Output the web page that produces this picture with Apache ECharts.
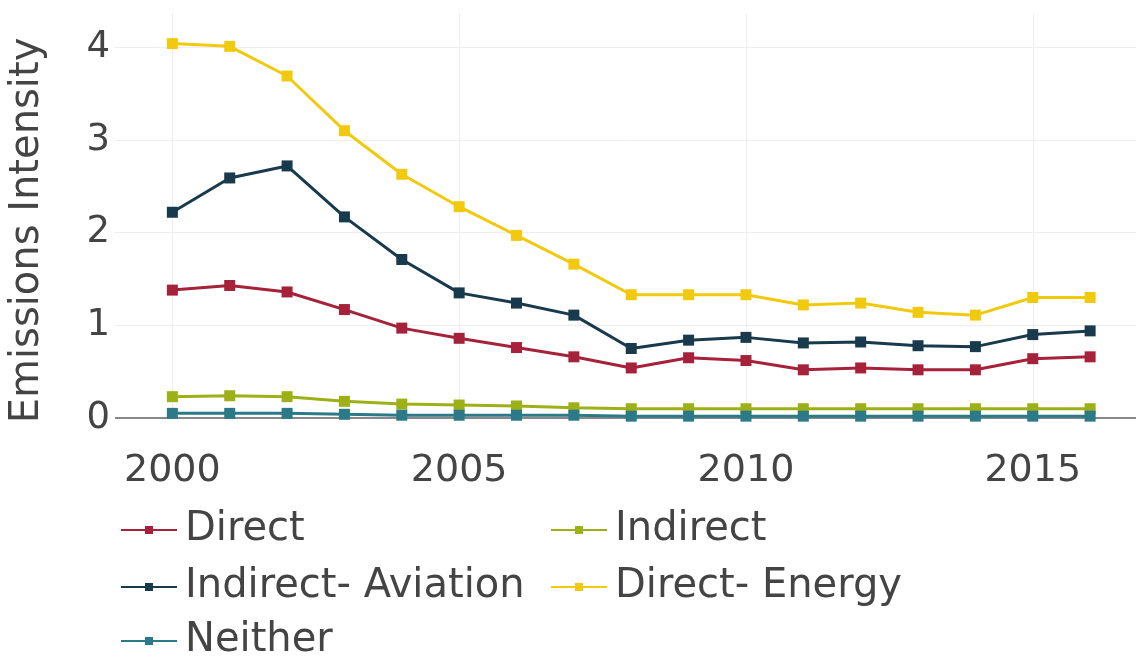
<!DOCTYPE html>
<html>
<head>
<meta charset="utf-8">
<script src="https://cdn.jsdelivr.net/npm/echarts@6/dist/echarts.min.js"></script>
<style>
html, body { margin: 0; padding: 0; background: #fff; }
#chart { width: 1136px; height: 657px; }
</style>
</head>
<body>
<div id="chart"></div>
<script>
// years on the x axis
const years = [2000, 2001, 2002, 2003, 2004, 2005, 2006, 2007, 2008, 2009, 2010, 2011, 2012, 2013, 2014, 2015, 2016];
const xTicks = [2000, 2005, 2010, 2015];
const yTicks = [0, 1, 2, 3, 4];

// emissions intensity per group
const direct = [1.38, 1.43, 1.36, 1.17, 0.97, 0.86, 0.76, 0.66, 0.54, 0.65, 0.62, 0.52, 0.54, 0.52, 0.52, 0.64, 0.66];
const indirect = [0.23, 0.24, 0.23, 0.18, 0.15, 0.14, 0.13, 0.11, 0.10, 0.10, 0.10, 0.10, 0.10, 0.10, 0.10, 0.10, 0.10];
const indirectAviation = [2.22, 2.59, 2.72, 2.17, 1.71, 1.35, 1.24, 1.11, 0.75, 0.84, 0.87, 0.81, 0.82, 0.78, 0.77, 0.90, 0.94];
const directEnergy = [4.04, 4.01, 3.69, 3.10, 2.63, 2.28, 1.97, 1.66, 1.33, 1.33, 1.33, 1.22, 1.24, 1.14, 1.11, 1.30, 1.30];
const neither = [0.05, 0.05, 0.05, 0.04, 0.03, 0.03, 0.03, 0.03, 0.02, 0.02, 0.02, 0.02, 0.02, 0.02, 0.02, 0.02, 0.02];

const names = ["Direct", "Indirect", "Indirect- Aviation", "Direct- Energy", "Neither"];
const colors = ["#a5223a", "#9eb017", "#183a4c", "#f1ca0f", "#2c7a87"];
const values = [direct, indirect, indirectAviation, directEnergy, neither];

const chart = echarts.init(document.getElementById("chart"));

const font = "'DejaVu Sans', Verdana, sans-serif";

// one legend per entry so the two columns line up like the original
const legendPos = [
  [120, 506], [550, 506],
  [120, 563], [550, 563],
  [120, 617]
];
const legends = names.map((n, i) => ({
  data: [n],
  left: legendPos[i][0],
  top: legendPos[i][1],
  itemWidth: 56,
  itemHeight: 10,
  padding: 0,
  textStyle: { fontSize: 40, color: "#444", fontFamily: font, lineHeight: 48, padding: [0, 0, 0, 3] }
}));

chart.setOption({
  animation: false,
  color: colors,
  grid: { left: 112, right: 0, top: 13, bottom: 239, containLabel: false },
  legend: legends,
  xAxis: {
    type: "value",
    min: 1999,
    max: 2016.8,
    axisLine: { show: false },
    axisTick: { show: false, customValues: xTicks },
    axisLabel: { customValues: xTicks, fontSize: 38, color: "#444", fontFamily: font, margin: 34, formatter: v => String(v) },
    splitLine: { show: true, lineStyle: { color: "#eeeeee", width: 1 } }
  },
  yAxis: {
    type: "value",
    min: 0,
    max: 4.37,
    name: "Emissions Intensity",
    nameLocation: "middle",
    nameGap: 67,
    nameTextStyle: { fontSize: 40, color: "#444", fontFamily: font, padding: [0, 30, 0, 0] },
    axisLine: { show: false },
    axisTick: { show: false, customValues: yTicks },
    axisLabel: { customValues: yTicks, fontSize: 37, color: "#444", fontFamily: font, margin: 5 },
    splitLine: { lineStyle: { color: "#eeeeee", width: 1 } }
  },
  series: names.map((n, i) => ({
    name: n,
    type: "line",
    data: years.map((y, j) => [y, values[i][j]]),
    symbol: "rect",
    symbolSize: 11,
    lineStyle: { width: 3, color: colors[i] },
    itemStyle: { color: colors[i] },
    markLine: i === 0 ? {
      silent: true,
      symbol: "none",
      label: { show: false },
      lineStyle: { color: "#888", width: 2, type: "solid" },
      data: [{ yAxis: 0 }]
    } : undefined,
    z: 2 + i
  }))
});
</script>
</body>
</html>
